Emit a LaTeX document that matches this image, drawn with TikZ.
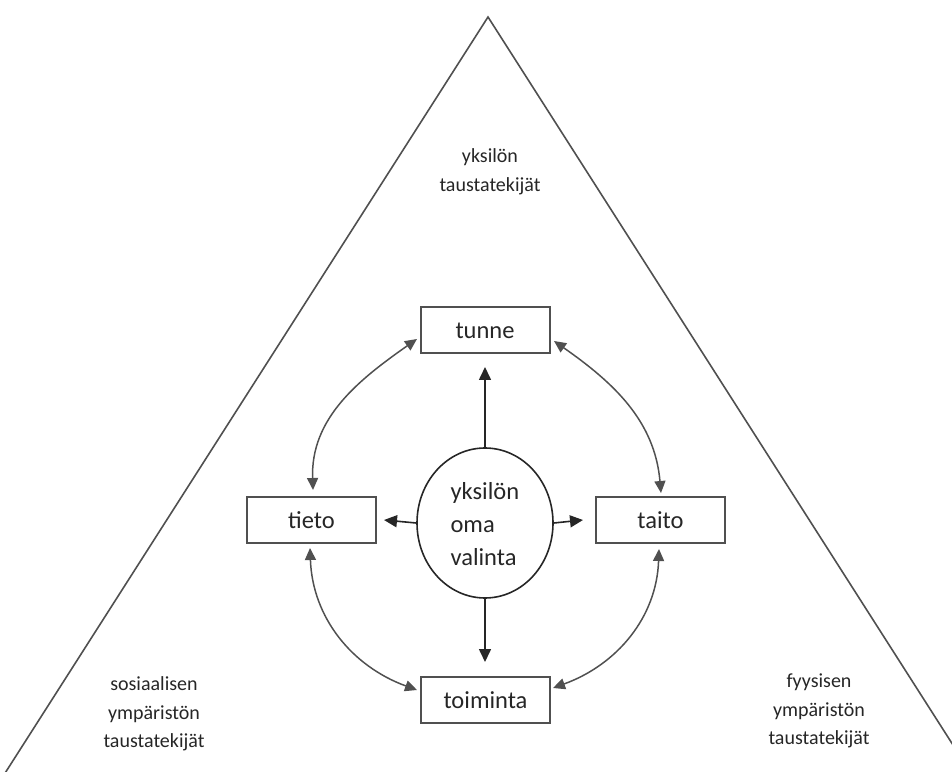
\documentclass[tikz,border=0pt]{standalone}
\usepackage{fontspec}
\setmainfont{Carlito}
\usetikzlibrary{arrows.meta,shapes.geometric}
\definecolor{ink}{HTML}{262626}
\definecolor{edge}{HTML}{505050}
\tikzset{
  stepbox/.style={draw=edge, line width=2pt, minimum width=129pt, minimum height=46pt,
    inner sep=0pt, font=\fontsize{24.5}{24.5}\selectfont, text=ink},
  choice/.style={draw=ink, line width=1.6pt, ellipse, minimum width=136pt, minimum height=150pt,
    inner sep=0pt},
  corner/.style={align=center, font=\fontsize{20}{28.5}\selectfont, text=ink},
  link/.style={draw=ink, line width=1.6pt, -{Triangle[length=13pt,width=12pt]}},
  twoway/.style={draw=edge, line width=1.5pt, {Triangle[length=12pt,width=11pt]}-{Triangle[length=12pt,width=11pt]}},
  side/.style={draw=edge, line width=1.6pt}
}
\begin{document}
\begin{tikzpicture}[x=1pt,y=1pt]
\useasboundingbox (0,0) rectangle (952,771);
\begin{scope}
  \clip (0,0) rectangle (952,771);
  % outer triangle, cut by the frame
  \coordinate (apex) at (488,754);
  \coordinate (leftfoot) at (0,-10);
  \coordinate (rightfoot) at (976,-10);
  \draw[side] (leftfoot) -- (apex) -- (rightfoot);
\end{scope}

% background factors
\node[corner] (indiv) at (490,599) {yksilön\\taustatekijät};
\node[corner] (social) at (154,57) {sosiaalisen\\ympäristön\\taustatekijät};
\node[corner] (physical) at (819,60) {fyysisen\\ympäristön\\taustatekijät};

% the four areas
\node[stepbox] (tunne) at (485,440.5) {tunne};
\node[stepbox] (tieto) at (311.5,251) {tieto};
\node[stepbox] (taito) at (660.5,251) {taito};
\node[stepbox] (toiminta) at (485.5,71) {toiminta};

% own choice in the middle
\node[choice] (valinta) at (485,248) {};
\node[align=left, anchor=west, font=\fontsize{24.5}{33}\selectfont, text=ink] (valintatext) at (447,247)
  {yksilön\\oma\\valinta};

% arrows out of the choice
\coordinate (tunnetip) at (485,404);
\coordinate (tietotip) at (384,251);
\coordinate (taitotip) at (583,251);
\coordinate (toimintatip) at (485,109);
\draw[link] (valinta.north) -- (tunnetip);
\draw[link] (valinta.west) -- (tietotip);
\draw[link] (valinta.east) -- (taitotip);
\draw[link] (valinta.south) -- (toimintatip);

% links between neighbouring areas
\coordinate (tl1) at (313,281);
\coordinate (tl2) at (417,432);
\coordinate (tr1) at (661,278);
\coordinate (tr2) at (554,430);
\coordinate (bl1) at (310,223);
\coordinate (bl2) at (417,81);
\coordinate (br1) at (659,222);
\coordinate (br2) at (553,83);
\draw[twoway] (tl1) to[out=92, in=215] (tl2);
\draw[twoway] (tr1) to[out=95, in=-35] (tr2);
\draw[twoway] (bl1) to[out=-88, in=160] (bl2);
\draw[twoway] (br1) to[out=-92, in=20] (br2);
\end{tikzpicture}
\end{document}
